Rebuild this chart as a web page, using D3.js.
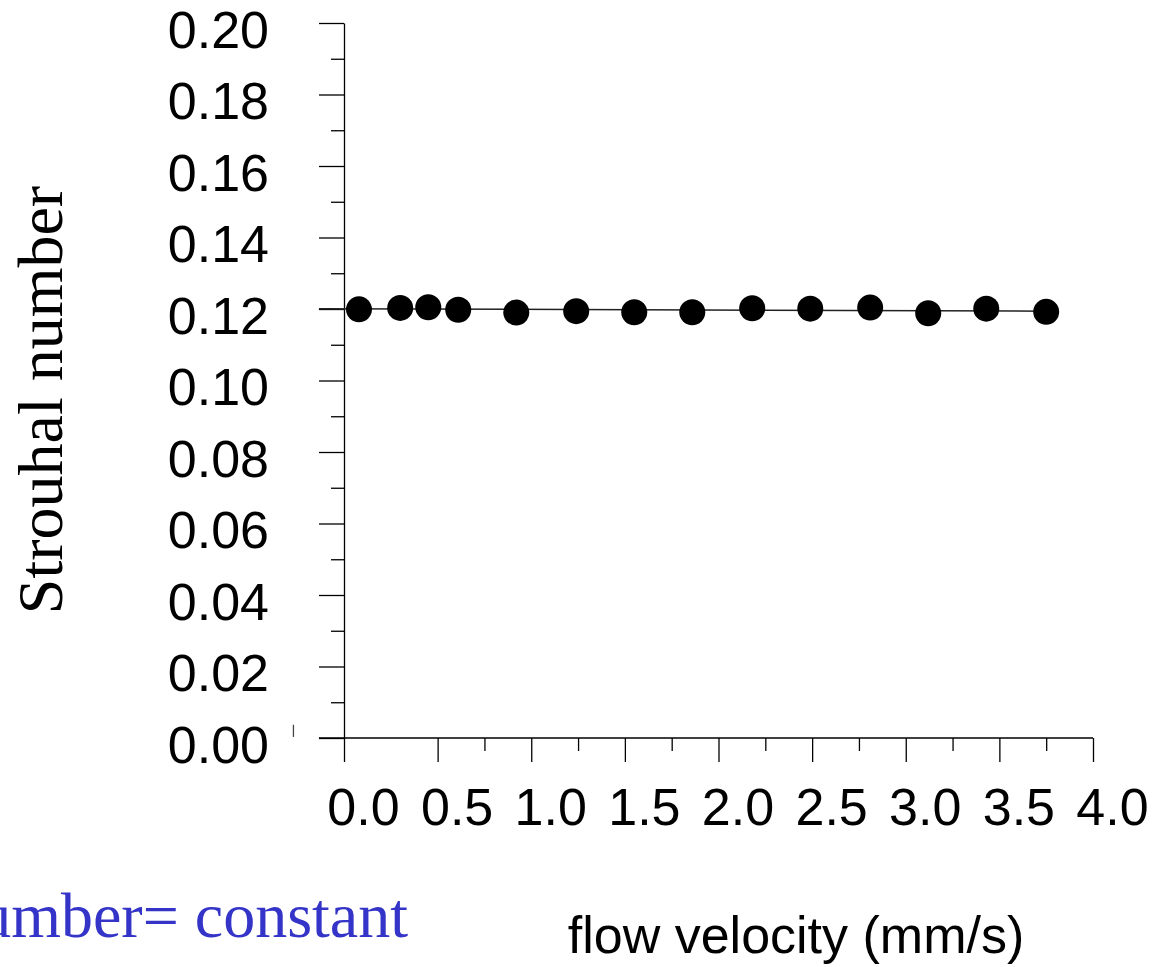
<!DOCTYPE html>
<html>
<head>
<meta charset="utf-8">
<script src="https://cdn.jsdelivr.net/npm/d3@7"></script>
<style>
  body { margin: 0; background: #fff; }
  svg { display: block; }
</style>
</head>
<body>
<svg id="chart" width="1156" height="967"></svg>
<script>
// flow velocity (mm/s) and measured Strouhal number
const velocity = [0.08, 0.30, 0.45, 0.61, 0.92, 1.24, 1.55, 1.86, 2.18, 2.49, 2.81, 3.12, 3.43, 3.75]
const strouhal = [0.1199, 0.1203, 0.1205, 0.1198, 0.1190, 0.1194, 0.1191, 0.1191, 0.1202, 0.1201, 0.1204, 0.1188, 0.1201, 0.1192]

// fitted line ends
const fitX = [-0.134, 3.75]
const fitY = [0.1201, 0.1194]

const xMajor = [0, 0.5, 1, 1.5, 2, 2.5, 3, 3.5, 4]
const xMinor = [0.75, 1.25, 1.75, 2.25, 2.75, 3.25, 3.75]
const yMajor = [0, 0.02, 0.04, 0.06, 0.08, 0.10, 0.12, 0.14, 0.16, 0.18, 0.20]
const yMinor = [0.01, 0.03, 0.05, 0.07, 0.09, 0.11, 0.13, 0.15, 0.17, 0.19]

const svg = d3.select('#chart')

const x = d3.scaleLinear().domain([0, 4]).range([344, 1093])
const y = d3.scaleLinear().domain([0, 0.2]).range([738, 23])

const sans = 'Liberation Sans, Arial, sans-serif'
const serif = 'Liberation Serif, Times New Roman, serif'

// y axis, major ticks with labels
const yAx = svg.append('g')
  .attr('transform', `translate(${x(0)},0)`)
  .call(d3.axisLeft(y).tickValues(yMajor).tickSize(25).tickSizeOuter(0)
    .tickPadding(50).tickFormat(d3.format('.2f')))
yAx.selectAll('text')
  .attr('dy', '0.47em')
  .style('font-family', sans).style('font-size', '52px').attr('fill', '#000')

svg.append('g')
  .attr('transform', `translate(${x(0)},0)`)
  .call(d3.axisLeft(y).tickValues(yMinor).tickSize(13).tickFormat(''))
  .call(g => g.select('.domain').remove())

// x axis
const xAx = svg.append('g')
  .attr('transform', `translate(0,${y(0)})`)
  .call(d3.axisBottom(x).tickValues(xMajor).tickSize(24).tickSizeOuter(0)
    .tickPadding(26).tickFormat(d3.format('.1f')))
xAx.select('.domain').remove()
xAx.selectAll('text')
  .attr('dx', 19)
  .style('font-family', sans).style('font-size', '52px').attr('fill', '#000')

svg.append('g')
  .attr('transform', `translate(0,${y(0)})`)
  .call(d3.axisBottom(x).tickValues(xMinor).tickSize(13).tickFormat(''))
  .call(g => g.select('.domain').remove())

// x axis line, running a little past the y axis
svg.append('line')
  .attr('x1', x(fitX[0])).attr('x2', x(4))
  .attr('y1', y(0)).attr('y2', y(0))
  .attr('stroke', '#000').attr('stroke-width', 1.3)

svg.selectAll('.tick line, .domain').attr('stroke', '#000').attr('stroke-width', 1.3)

// small stray mark left of origin
svg.append('line')
  .attr('x1', x(-0.27)).attr('x2', x(-0.27))
  .attr('y1', y(0.0037)).attr('y2', y(0.0003))
  .attr('stroke', '#444').attr('stroke-width', 1.3)

// fit line
svg.append('line')
  .attr('x1', x(fitX[0])).attr('x2', x(fitX[1]))
  .attr('y1', y(fitY[0])).attr('y2', y(fitY[1]))
  .attr('stroke', '#222').attr('stroke-width', 1.5)

// points
svg.append('g')
  .selectAll('circle')
  .data(velocity)
  .join('circle')
    .attr('cx', d => x(d))
    .attr('cy', (d, i) => y(strouhal[i]))
    .attr('r', 13)
    .attr('fill', '#000')

// titles
svg.append('text')
  .attr('transform', 'translate(62,400) rotate(-90)')
  .attr('text-anchor', 'middle')
  .style('font-family', serif).style('font-size', '64px')
  .text('Strouhal number')

svg.append('text')
  .attr('x', 796).attr('y', 953)
  .attr('text-anchor', 'middle')
  .style('font-family', sans).style('font-size', '52px')
  .text('flow velocity (mm/s)')

svg.append('text')
  .attr('x', 408).attr('y', 937)
  .attr('text-anchor', 'end')
  .attr('fill', '#3434c8')
  .style('font-family', serif).style('font-size', '64px')
  .text('Strouhal number= constant')
</script>
</body>
</html>
